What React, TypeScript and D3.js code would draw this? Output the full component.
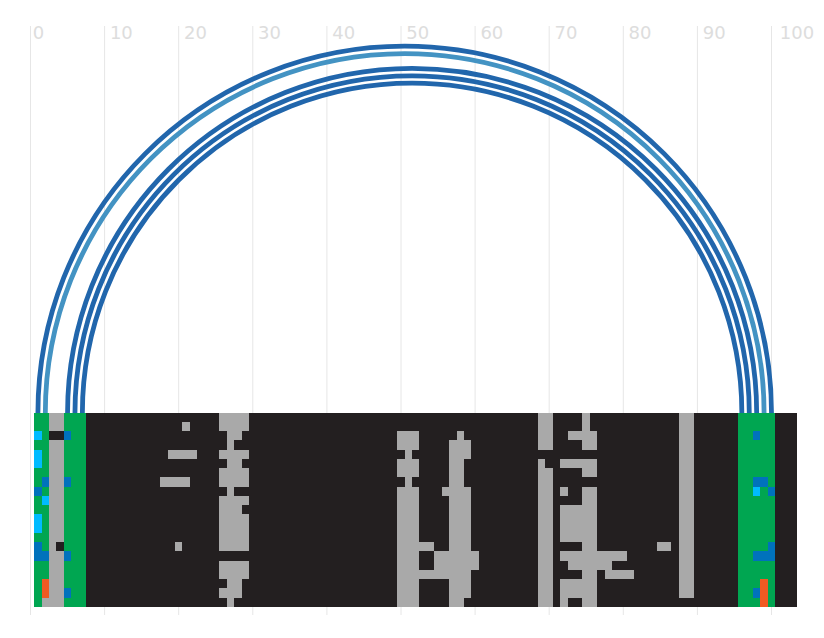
import React from "react";
import * as d3 from "d3";

const tickValues = [0, 10, 20, 30, 40, 50, 60, 70, 80, 90, 100];
const rowCount = 21;
const columnCount = 103;

const arcLinks: [number, number, string][] = [
  [1, 100, "dark"],
  [2, 99, "light"],
  [5, 98, "dark"],
  [6, 97, "dark"],
  [7, 96, "dark"],
];

const greenColumns = [0, 1, 4, 5, 6, 95, 96, 97, 98, 99];
const baseGrayColumns = [2, 3];

const grayRuns: [number, number][][] = [
  [[25,28],[68,69],[74,74],[87,88]],
  [[20,20],[25,28],[68,69],[74,74],[87,88]],
  [[26,27],[49,51],[57,57],[68,69],[72,75],[87,88]],
  [[26,26],[49,51],[56,58],[68,69],[74,75],[87,88]],
  [[18,21],[25,28],[50,50],[56,58],[87,88]],
  [[26,27],[49,51],[56,57],[68,68],[71,75],[87,88]],
  [[25,28],[49,51],[56,57],[68,69],[74,75],[87,88]],
  [[17,20],[25,28],[50,50],[56,57],[68,69],[87,88]],
  [[26,26],[49,51],[55,58],[68,69],[71,71],[74,75],[87,88]],
  [[25,28],[49,51],[56,58],[68,69],[74,75],[87,88]],
  [[25,27],[49,51],[56,58],[68,69],[71,75],[87,88]],
  [[25,28],[49,51],[56,58],[68,69],[71,75],[87,88]],
  [[25,28],[49,51],[56,58],[68,69],[71,75],[87,88]],
  [[25,28],[49,51],[56,58],[68,69],[71,75],[87,88]],
  [[19,19],[25,28],[49,53],[56,58],[68,69],[74,75],[84,85],[87,88]],
  [[49,51],[54,59],[68,69],[71,79],[87,88]],
  [[25,28],[49,51],[54,59],[68,69],[72,77],[87,88]],
  [[25,28],[49,58],[68,69],[74,75],[77,80],[87,88]],
  [[26,27],[49,51],[56,58],[68,69],[71,75],[87,88]],
  [[25,27],[49,51],[56,58],[68,69],[71,75],[87,88]],
  [[26,26],[49,51],[56,57],[68,69],[71,71],[74,75]],
];

const cyanCells: [number, number][] = [[2,0],[4,0],[5,0],[9,1],[11,0],[12,0],[8,97]];
const blueCells: [number, number][] = [[2,4],[7,1],[7,4],[8,0],[14,0],[15,0],[15,1],[15,4],[19,4],[2,97],[7,97],[7,98],[8,99],[14,99],[15,97],[15,98],[15,99],[19,97]];
const orangeCells: [number, number][] = [[18,1],[19,1],[18,98],[19,98],[20,98]];
const blackCells: [number, number][] = [[2,2],[2,3],[14,3]];
const extraGrayCells: [number, number][] = [[20,1]];

const cellColors: Record<string, string> = {
  black: "#231f20",
  green: "#00a651",
  gray: "#a9a9a9",
  blue: "#0072bc",
  cyan: "#00bbff",
  orange: "#f15a22",
};
const arcColors: Record<string, string> = { dark: "#2166ac", light: "#4393c3" };

function buildMatrix(): string[][] {
  const m: string[][] = d3.range(rowCount).map(() => d3.range(columnCount).map(() => "black"));
  m.forEach((row, r) => {
    greenColumns.forEach((c) => (row[c] = "green"));
    baseGrayColumns.forEach((c) => (row[c] = "gray"));
    grayRuns[r].forEach(([a, b]) => d3.range(a, b + 1).forEach((c) => (row[c] = "gray")));
  });
  const put = (list: [number, number][], k: string) => list.forEach(([r, c]) => (m[r][c] = k));
  put(cyanCells, "cyan");
  put(blueCells, "blue");
  put(orangeCells, "orange");
  put(blackCells, "black");
  put(extraGrayCells, "gray");
  return m;
}

export default function App() {
  const x = d3.scaleLinear().domain([0, 100]).range([30.5, 771.5]);
  const colX = d3.scaleLinear().domain([0, columnCount]).range([34.27, 797.29]);
  const rowY = d3.scaleLinear().domain([0, rowCount]).range([412.7, 606.9]);
  const baseY = 413;
  const matrix = buildMatrix();

  const arcPath = (a: number, b: number) => {
    const cx = (x(a) + x(b)) / 2;
    const r = (x(b) - x(a)) / 2;
    const p = d3.path();
    p.arc(cx, baseY, r, Math.PI, 0);
    return p.toString();
  };

  return (
    <svg
      width={824}
      height={638}
      style={{ position: "absolute", left: 0, top: 0, display: "block", background: "#fff" }}
    >
      {tickValues.map((t) => (
        <g key={t}>
          <line x1={x(t)} x2={x(t)} y1={26} y2={615} stroke="#e6e6e6" strokeWidth={1} />
          <text
            x={x(t) - 0.7 + 3 * String(t).length}
            y={39}
            fontFamily="'DejaVu Sans'"
            fontSize={18}
            fill="#dddddd"
          >
            {t}
          </text>
        </g>
      ))}
      {arcLinks.map(([a, b, k]) => (
        <path key={a} d={arcPath(a, b)} fill="none" stroke={arcColors[k]} strokeWidth={4.8} />
      ))}
      <g shapeRendering="crispEdges">
        {matrix.flatMap((row, r) =>
          row.map((k, c) => (
            <rect
              key={`${r}-${c}`}
              x={colX(c)}
              y={rowY(r)}
              width={colX(c + 1) - colX(c)}
              height={rowY(r + 1) - rowY(r)}
              fill={cellColors[k]}
            />
          ))
        )}
      </g>
    </svg>
  );
}
